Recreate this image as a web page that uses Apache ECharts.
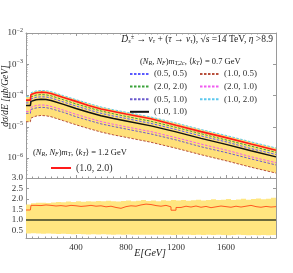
<!DOCTYPE html>
<html><head><meta charset="utf-8">
<script src="https://cdn.jsdelivr.net/npm/echarts@6/dist/echarts.min.js"></script>
<style>html,body{margin:0;padding:0;background:#fff}#c{width:293px;height:273px}</style>
</head><body><div id="c"></div>
<script>
// ---- data (top panel, dsigma/dE in ub/GeV) ----
const energyTop = [0,35,40,80,120,160,200,300,400,500,600,700,800,1000,1200,1400,1600,1800,2000];
const s10_10 = [4.83e-5,4.83e-5,6.48e-5,7.34e-5,7.62e-5,7.5e-5,6.97e-5,5.2e-5,3.87e-5,2.93e-5,2.26e-5,1.85e-5,1.54e-5,1.07e-5,6.87e-6,4.26e-6,2.74e-6,1.70e-6,1.09e-6];
const s10_20 = [9.2e-5,9.2e-5,1.23e-4,1.40e-4,1.45e-4,1.43e-4,1.33e-4,9.9e-5,7.4e-5,5.6e-5,4.3e-5,3.5e-5,2.93e-5,2.05e-5,1.32e-5,8.2e-6,5.3e-6,3.3e-6,2.1e-6];
const s10_20_k12 = [7.1e-5,7.1e-5,1.08e-4,1.22e-4,1.28e-4,1.25e-4,1.16e-4,8.6e-5,6.5e-5,4.8e-5,3.7e-5,3.1e-5,2.55e-5,1.80e-5,1.12e-5,7.0e-6,4.5e-6,2.8e-6,1.77e-6];
const s20_20 = [6.8e-5,6.8e-5,9.1e-5,1.03e-4,1.07e-4,1.05e-4,9.8e-5,7.3e-5,5.4e-5,4.1e-5,3.2e-5,2.6e-5,2.15e-5,1.5e-5,9.6e-6,6.0e-6,3.8e-6,2.4e-6,1.53e-6];
const s05_05 = [5.8e-5,5.8e-5,7.8e-5,8.8e-5,9.1e-5,9.0e-5,8.4e-5,6.2e-5,4.6e-5,3.5e-5,2.7e-5,2.2e-5,1.85e-5,1.28e-5,8.2e-6,5.1e-6,3.3e-6,2.0e-6,1.3e-6];
const s20_10 = [3.1e-5,3.1e-5,4.2e-5,4.8e-5,5.0e-5,4.9e-5,4.5e-5,3.4e-5,2.5e-5,1.9e-5,1.47e-5,1.2e-5,1.0e-5,7.0e-6,4.5e-6,2.8e-6,1.8e-6,1.1e-6,7.1e-7];
const s05_10 = [2.7e-5,2.7e-5,3.6e-5,4.0e-5,4.2e-5,4.1e-5,3.8e-5,2.9e-5,2.1e-5,1.6e-5,1.24e-5,1.02e-5,8.5e-6,5.9e-6,3.8e-6,2.3e-6,1.5e-6,9.4e-7,6.0e-7];
const s10_05 = [1.45e-5,1.45e-5,1.9e-5,2.2e-5,2.3e-5,2.25e-5,2.1e-5,1.56e-5,1.16e-5,8.8e-6,6.8e-6,5.5e-6,4.6e-6,3.2e-6,2.06e-6,1.28e-6,8.2e-7,5.1e-7,3.3e-7];
const yTickValues = [1e-6,1e-5,1e-4,1e-3,1e-2];
const yMinorValues = [3e-7,4e-7,5e-7,6e-7,7e-7,8e-7,9e-7,2e-6,3e-6,4e-6,5e-6,6e-6,7e-6,8e-6,9e-6,2e-5,3e-5,4e-5,5e-5,6e-5,7e-5,8e-5,9e-5,2e-4,3e-4,4e-4,5e-4,6e-4,7e-4,8e-4,9e-4,2e-3,3e-3,4e-3,5e-3,6e-3,7e-3,8e-3,9e-3];
// ---- data (ratio panel) ----
const energyRatio = [0,35,40,80,120,160,200,240,280,320,360,400,440,480,520,560,600,640,680,720,760,800,840,880,920,960,1000,1040,1080,1120,1160,1200,1240,1280,1320,1360,1400,1440,1480,1520,1560,1600,1640,1680,1720,1760,1800,1840,1880,1920,1960,2000];
const ratioRed = [1.48,1.48,1.70,1.69,1.72,1.70,1.67,1.69,1.66,1.70,1.68,1.65,1.67,1.70,1.66,1.68,1.63,1.66,1.60,1.56,1.64,1.68,1.66,1.72,1.76,1.74,1.69,1.66,1.70,1.63,1.47,1.60,1.66,1.62,1.67,1.61,1.65,1.59,1.63,1.67,1.64,1.61,1.66,1.62,1.66,1.70,1.64,1.61,1.65,1.62,1.64,1.62];
const ratioHigh = [1.74,1.74,1.80,1.82,1.83,1.81,1.84,1.86,1.85,1.88,1.86,1.89,1.87,1.90,1.88,1.91,1.89,1.92,1.90,1.88,1.91,1.93,1.90,1.92,1.95,1.91,1.93,1.90,1.94,1.92,1.95,1.93,1.96,1.92,1.94,1.97,1.93,1.96,1.99,1.95,1.97,2.00,1.96,1.98,2.02,1.97,2.00,2.03,1.99,2.02,2.06,2.04];
const ratioLow = [0.36,0.36,0.37,0.36,0.35,0.36,0.35,0.34,0.35,0.34,0.33,0.34,0.33,0.32,0.33,0.32,0.33,0.32,0.31,0.32,0.31,0.32,0.31,0.30,0.31,0.30,0.31,0.30,0.31,0.30,0.29,0.30,0.31,0.30,0.29,0.30,0.29,0.30,0.29,0.30,0.29,0.28,0.29,0.30,0.29,0.28,0.29,0.28,0.29,0.28,0.29,0.28];
const unityE = [0,2000];
const unityRatio = [1,1];
const ratioTicks = [0.5,1.0,1.5,2.0,2.5,3.0];
const xTickLabels = [400,800,1200,1600];

const FF = "'Liberation Serif','DejaVu Serif',serif";
const AX = '#9a9a9a';
const TXT = '#333';
const zip = (xs, ys) => xs.map((x, i) => [x, ys[i]]);

const chart = echarts.init(document.getElementById('c'), null, {renderer: 'canvas'});

function lineSeries(name, ys, color, dash, width, z) {
  return {
    type: 'line', name, xAxisIndex: 0, yAxisIndex: 0, data: zip(energyTop, ys),
    symbol: 'none', smooth: false, z: z || 3,
    lineStyle: {color, width: width || 1, type: dash ? [2.5, 1.5] : 'solid'},
    itemStyle: {color}
  };
}

function bandSeries(xi, yi, xs, lo, hi, color, step, anchor) {
  return {
    type: 'custom', xAxisIndex: xi, yAxisIndex: yi, silent: true, z: 1, clip: true,
    data: [anchor],
    renderItem: (params, api) => {
      const up = [], dn = [];
      for (let i = 0; i < xs.length; i++) {
        up.push(api.coord([xs[i], hi[i]]));
        dn.push(api.coord([xs[i], lo[i]]));
        if (step && i < xs.length - 1) {
          up.push(api.coord([xs[i + 1], hi[i]]));
          dn.push(api.coord([xs[i + 1], lo[i]]));
        }
      }
      const pts = up.concat(dn.reverse());
      return {type: 'polygon', shape: {points: pts}, style: {fill: color}};
    }
  };
}

const xBase = {
  type: 'value', min: 0, max: 2000, interval: 400,
  axisLine: {show: true, lineStyle: {color: AX, width: 1}},
  axisTick: {show: true, inside: true, length: 3, lineStyle: {color: AX}},
  minorTick: {show: true, splitNumber: 8, length: 1.5, lineStyle: {color: AX}},
  splitLine: {show: false}, minorSplitLine: {show: false},
  axisLabel: {show: false}
};

const legendText = {fontFamily: FF, fontSize: 9, color: TXT, lineHeight: 10};
const legendCommon = {orient: 'vertical', padding: 0, selectedMode: false, itemStyle: {opacity: 0}};

const option = {
  animation: false,
  backgroundColor: '#fff',
  grid: [
    {left: 26, right: 17, top: 33, height: 145},
    {left: 26, right: 17, top: 178, height: 60}
  ],
  xAxis: [
    Object.assign({}, xBase, {gridIndex: 0, position: 'bottom'}),
    Object.assign({}, xBase, {gridIndex: 0, position: 'top'}),
    Object.assign({}, xBase, {gridIndex: 1, position: 'bottom',
      axisLabel: {show: true, customValues: xTickLabels, margin: 5, color: TXT, fontFamily: FF, fontSize: 9,
        formatter: v => String(v)}}),
  ],
  yAxis: [
    {gridIndex: 0, type: 'log', logBase: 10, min: 2.3e-7, max: 1e-2, position: 'left',
     axisLine: {show: true, lineStyle: {color: AX}},
     axisTick: {show: true, inside: true, length: 3, customValues: yTickValues, lineStyle: {color: AX}},
     splitLine: {show: false},
     axisLabel: {show: true, customValues: yTickValues, margin: 3, color: TXT,
       formatter: v => '{b|10}{e|−' + Math.round(-Math.log10(v)) + '}',
       rich: {b: {fontFamily: FF, fontSize: 9, color: TXT}, e: {fontFamily: FF, fontSize: 6, color: TXT, verticalAlign: 'top', padding: [0, 0, 6, 0]}}}},
    {gridIndex: 0, type: 'log', logBase: 10, min: 2.3e-7, max: 1e-2, position: 'left',
     axisLine: {show: false}, splitLine: {show: false}, axisLabel: {show: false},
     axisTick: {show: true, inside: true, length: 1.5, customValues: yMinorValues, lineStyle: {color: AX}}},
    {gridIndex: 0, type: 'log', logBase: 10, min: 2.3e-7, max: 1e-2, position: 'right',
     axisLine: {show: true, lineStyle: {color: AX}}, splitLine: {show: false}, axisLabel: {show: false},
     axisTick: {show: true, inside: true, length: 3, customValues: yTickValues, lineStyle: {color: AX}}},
    {gridIndex: 1, type: 'value', min: 0.15, max: 3.0, position: 'left',
     axisLine: {show: true, lineStyle: {color: AX}},
     axisTick: {show: true, inside: true, length: 3, customValues: ratioTicks, lineStyle: {color: AX}},
     splitLine: {show: false},
     axisLabel: {show: true, customValues: ratioTicks, margin: 3, color: TXT, fontFamily: FF, fontSize: 9,
       formatter: v => v.toFixed(1)}},
    {gridIndex: 1, type: 'value', min: 0.15, max: 3.0, position: 'right',
     axisLine: {show: true, lineStyle: {color: AX}}, splitLine: {show: false}, axisLabel: {show: false},
     axisTick: {show: true, inside: true, length: 3, customValues: ratioTicks, lineStyle: {color: AX}}}
  ],
  legend: [
    Object.assign({}, legendCommon, {left: 129, top: 69, itemWidth: 19, itemHeight: 10, itemGap: 2.6,
     textStyle: legendText, data: ['(0.5, 0.5)', '(2.0, 2.0)', '(0.5, 1.0)', '(1.0, 1.0)']}),
    Object.assign({}, legendCommon, {left: 199, top: 69, itemWidth: 19, itemHeight: 10, itemGap: 2.6,
     textStyle: legendText, data: ['(1.0, 0.5)', '(2.0, 1.0)', '(1.0, 2.0)']}),
    Object.assign({}, legendCommon, {left: 50, top: 163, itemWidth: 20, itemHeight: 12,
     textStyle: {fontFamily: FF, fontSize: 10, color: TXT}, data: ['(1.0, 2.0) ']})
  ],
  graphic: [
    {type: 'text', right: 20, top: 34, z: 100, style: {
      text: '{i|D}{s|s}{p|±} → {i|ν}{s|τ} + ({i|τ} → {i|ν}{s|τ}), √{i|s} =14 TeV, {i|η} >8.9',
      fontFamily: FF, fontSize: 9.5, fill: '#222',
      rich: {i: {fontFamily: FF, fontSize: 9.5, fontStyle: 'italic', fill: '#222'},
             s: {fontFamily: FF, fontSize: 6.5, fontStyle: 'italic', fill: '#222', verticalAlign: 'bottom', padding: [4, 0, 0, 0]},
             p: {fontFamily: FF, fontSize: 6.5, fill: '#222', verticalAlign: 'top', padding: [0, 0, 4, 0]}}}},
    {type: 'text', left: 140, top: 57, z: 100, style: {
      text: '({i|N}{s|R}, {i|N}{s|F}){i|m}{s|T,2c}, ⟨{i|k}{s|T}⟩ = 0.7 GeV',
      fontFamily: FF, fontSize: 8.5, fill: '#222',
      rich: {i: {fontFamily: FF, fontSize: 8.5, fontStyle: 'italic', fill: '#222'},
             s: {fontFamily: FF, fontSize: 6, fontStyle: 'italic', fill: '#222', verticalAlign: 'bottom', padding: [3, 0, 0, 0]}}}},
    {type: 'text', left: 33, top: 148, z: 100, style: {
      text: '({i|N}{s|R}, {i|N}{s|F}){i|m}{s|T}, ⟨{i|k}{s|T}⟩ = 1.2 GeV',
      fontFamily: FF, fontSize: 8.5, fill: '#222',
      rich: {i: {fontFamily: FF, fontSize: 8.5, fontStyle: 'italic', fill: '#222'},
             s: {fontFamily: FF, fontSize: 6, fontStyle: 'italic', fill: '#222', verticalAlign: 'bottom', padding: [3, 0, 0, 0]}}}},
    {type: 'text', x: 5, y: 96, rotation: Math.PI / 2, z: 100, style: {
      x: 0, y: 0, text: 'dσ/dE [μb/GeV]', align: 'center', verticalAlign: 'middle',
      fontFamily: FF, fontSize: 9.5, fontStyle: 'italic', fill: '#222'}},
    {type: 'text', x: 150, y: 253, z: 100, style: {
      x: 0, y: 0, text: 'E[GeV]', align: 'center', verticalAlign: 'middle',
      fontFamily: FF, fontSize: 10, fontStyle: 'italic', fill: '#222'}}
  ],
  series: [
    bandSeries(0, 0, energyTop, s10_05, s10_20, '#ffe07a', false, [1000, 1e-5]),
    lineSeries('(1.0, 0.5)', s10_05, '#b8503c', true),
    lineSeries('(0.5, 1.0)', s05_10, '#6a5acd', true),
    lineSeries('(2.0, 1.0)', s20_10, '#f05af0', true),
    lineSeries('(0.5, 0.5)', s05_05, '#5a5aff', true),
    lineSeries('(2.0, 2.0)', s20_20, '#3aa23a', true),
    lineSeries('(1.0, 1.0)', s10_10, '#111111', false, 1.5, 4),
    lineSeries('(1.0, 2.0) ', s10_20_k12, '#ff1a1a', false, 1.6, 5),
    lineSeries('(1.0, 2.0)', s10_20, '#5cc8ee', true),
    // ratio panel
    bandSeries(2, 3, energyRatio, ratioLow, ratioHigh, '#ffe680', true, [1000, 1]),
    {type: 'line', xAxisIndex: 2, yAxisIndex: 3, symbol: 'none', step: 'end',
     data: zip(energyRatio, ratioRed), lineStyle: {color: '#ff5a1f', width: 1}, z: 3},
    {type: 'line', xAxisIndex: 2, yAxisIndex: 3, symbol: 'none',
     data: zip(unityE, unityRatio), lineStyle: {color: '#6b6a3c', width: 2}, z: 4}
  ]
};
chart.setOption(option);
</script></body></html>
